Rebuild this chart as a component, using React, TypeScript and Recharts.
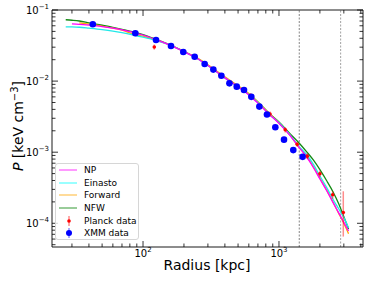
import React from 'react';
import { ComposedChart, Line, Scatter, XAxis, YAxis, ReferenceLine, ErrorBar, Legend } from 'recharts';

// ---- model curves (pressure in keV cm^-3 vs radius in kpc) ----
const radiusGrid = [27, 30, 34, 40, 50, 60, 70, 85, 100, 125, 150, 200, 250, 300, 400, 500, 600, 700, 850, 1000, 1200, 1400, 1600, 1800, 2000, 2250, 2500, 2750, 3000, 3250];
const npValues = [null, 0.0636, 0.0628, 0.0612, 0.0585, 0.0555, 0.0525, 0.0483, 0.0445, 0.0383, 0.0334, 0.0260, 0.0208, 0.0166, 0.0111, 0.0083, 0.0064, 0.0049, 0.0034, 0.00254, 0.00174, 0.00118, 0.00085, 0.00060, 0.00042, 0.000285, 0.000195, 0.000140, 0.000103, 0.000078];
const einastoValues = [0.058, 0.0578, 0.0572, 0.0555, 0.0530, 0.0505, 0.0480, 0.0445, 0.0415, 0.0372, 0.0333, 0.0260, 0.0208, 0.0166, 0.0111, 0.0083, 0.0065, 0.0050, 0.0034, 0.00260, 0.00176, 0.00121, 0.00092, 0.000665, 0.000463, 0.000315, 0.000216, 0.000160, 0.000120, 0.000086];
const forwardValues = [null, null, 0.066, 0.0635, 0.0595, 0.0555, 0.0520, 0.0458, 0.0428, 0.0377, 0.0333, 0.0262, 0.0212, 0.0170, 0.0115, 0.0086, 0.0067, 0.0051, 0.0035, 0.00258, 0.00175, 0.00118, 0.00087, 0.00061, 0.00043, 0.00029, 0.000198, 0.000138, 0.000100, 0.000071];
const nfwValues = [0.073, 0.0718, 0.0700, 0.0660, 0.0610, 0.0570, 0.0535, 0.0492, 0.0452, 0.0388, 0.0338, 0.0262, 0.0210, 0.0167, 0.0112, 0.0084, 0.0066, 0.0051, 0.0035, 0.00266, 0.00184, 0.00136, 0.00101, 0.000765, 0.000567, 0.000393, 0.000276, 0.000189, 0.000124, 0.000083];

// ---- data points ----
const xmmRadius = [42.7, 87.8, 124.6, 160.6, 197.8, 239.8, 284, 329, 377, 432, 489, 553, 626, 717, 816, 940, 1089, 1274, 1493];
const xmmPressure = [0.063, 0.047, 0.0379, 0.0312, 0.0257, 0.022, 0.0174, 0.0145, 0.0119, 0.0093, 0.00835, 0.0075, 0.0060, 0.00438, 0.00339, 0.00224, 0.0015, 0.00107, 0.00086];
const planckRadius = [121, 368, 620, 859, 1112, 1361, 1615, 2000, 2482, 2972];
const planckPressure = [0.0302, 0.0122, 0.00624, 0.00344, 0.00207, 0.00129, 0.00088, 0.000497, 0.000252, 0.000142];
const planckErrLow = [0.0025, 0.0009, 0.0005, 0.0003, 0.00017, 0.0001, 0.00008, 0.00005, 0.00003, 0.000077];
const planckErrHigh = [0.0025, 0.0009, 0.0005, 0.0003, 0.00017, 0.0001, 0.00008, 0.00005, 0.00003, 0.00014];

// ---- reference radii (dotted vertical lines) ----
const refRadii = [1410, 2840];
const refColors = ['#666666', '#aaaaaa'];

// ---- ticks ----
const xTicks = [30, 40, 50, 60, 70, 80, 90, 100, 200, 300, 400, 500, 600, 700, 800, 900, 1000, 2000, 3000, 4000];
const yTicks = [5e-5, 6e-5, 7e-5, 8e-5, 9e-5, 1e-4, 2e-4, 3e-4, 4e-4, 5e-4, 6e-4, 7e-4, 8e-4, 9e-4, 1e-3, 2e-3, 3e-3, 4e-3, 5e-3, 6e-3, 7e-3, 8e-3, 9e-3, 1e-2, 2e-2, 3e-2, 4e-2, 5e-2, 6e-2, 7e-2, 8e-2, 9e-2, 1e-1];
const xDomain = [21.4, 4150];
const yDomain = [4.64e-5, 0.1];

const legendItems = [
  { name: 'NP', color: 'rgba(255,0,255,0.5)', kind: 'line' },
  { name: 'Einasto', color: 'rgba(0,255,255,0.5)', kind: 'line' },
  { name: 'Forward', color: 'rgba(255,165,0,0.5)', kind: 'line' },
  { name: 'NFW', color: 'rgba(0,128,0,0.5)', kind: 'line' },
  { name: 'Planck data', color: '#ff0000', kind: 'planck' },
  { name: 'XMM data', color: '#0000ff', kind: 'xmm' },
];

const FONT = '"DejaVu Sans", sans-serif';

const curve = (vals: (number | null)[]) =>
  radiusGrid.map((r, i) => ({ r, p: vals[i] })).filter((d) => d.p != null);

const npData = curve(npValues);
const einastoData = curve(einastoValues);
const forwardData = curve(forwardValues);
const nfwData = curve(nfwValues);
const xmmData = xmmRadius.map((r, i) => ({ r, p: xmmPressure[i] }));
const planckData = planckRadius.map((r, i) => ({ r, p: planckPressure[i], err: [planckErrLow[i], planckErrHigh[i]] }));

const isMajor = (v: number) => Math.abs(Math.log10(v) - Math.round(Math.log10(v))) < 1e-6;
const expStr = (v: number) => {
  const e = Math.round(Math.log10(v));
  return e < 0 ? '\u2212' + Math.abs(e) : String(e);
};

const BottomTick = (props: any) => {
  const { x, y, payload } = props;
  const v = payload.value;
  const major = isMajor(v);
  return (
    <g>
      <line x1={x} x2={x} y1={y} y2={y - (major ? 6 : 3.5)} stroke="#000" strokeWidth={0.8} />
      {major && (
        <text x={x} y={y + 10} textAnchor="middle" fontFamily={FONT} fontSize={10} fill="#000">
          10<tspan dy={-5} fontSize={7}>{expStr(v)}</tspan>
        </text>
      )}
    </g>
  );
};
const TopTick = (props: any) => {
  const { x, y, payload } = props;
  const major = isMajor(payload.value);
  return <line x1={x} x2={x} y1={y} y2={y + (major ? 6 : 3.5)} stroke="#000" strokeWidth={0.8} />;
};
const LeftTick = (props: any) => {
  const { x, y, payload } = props;
  const v = payload.value;
  const major = isMajor(v);
  return (
    <g>
      <line x1={x} x2={x + (major ? 6 : 3.5)} y1={y} y2={y} stroke="#000" strokeWidth={0.8} />
      {major && (
        <text x={x - 3} y={y + 4} textAnchor="end" fontFamily={FONT} fontSize={10} fill="#000">
          10<tspan dy={-5} fontSize={7}>{expStr(v)}</tspan>
        </text>
      )}
    </g>
  );
};
const RightTick = (props: any) => {
  const { x, y, payload } = props;
  const major = isMajor(payload.value);
  return <line x1={x} x2={x - (major ? 6 : 3.5)} y1={y} y2={y} stroke="#000" strokeWidth={0.8} />;
};

const XTitle = () => (
  <text x={207} y={270} textAnchor="middle" fontFamily={FONT} fontSize={14} fill="#000">
    Radius [kpc]
  </text>
);
const YTitle = () => (
  <text x={23} y={126} transform="rotate(-90 23 126)" textAnchor="middle" fontFamily={FONT} fontSize={14} fill="#000">
    <tspan fontStyle="italic">P</tspan> [keV cm<tspan dy={-5} fontSize={10}>{'\u22123'}</tspan>
    <tspan dy={5}>]</tspan>
  </text>
);

const LegendBox = () => (
  <div
    style={{
      width: 84,
      height: 77,
      boxSizing: 'border-box',
      border: '1px solid #d6d6d6',
      borderRadius: 3,
      background: 'rgba(255,255,255,0.8)',
      paddingTop: 0,
      fontFamily: FONT,
      fontSize: 9,
      color: '#000',
    }}
  >
    {legendItems.map((it) => (
      <div key={it.name} style={{ display: 'flex', alignItems: 'center', height: 12.6 }}>
        <svg width={18} height={12} style={{ marginLeft: 3, marginRight: 7, flex: 'none' }}>
          {it.kind === 'line' && <line x1={0} x2={18} y1={6} y2={6} stroke={it.color} strokeWidth={1.6} />}
          {it.kind === 'planck' && (
            <g>
              <line x1={10} x2={10} y1={1} y2={11} stroke="rgba(255,0,0,0.45)" strokeWidth={1.5} />
              <circle cx={10} cy={6} r={1.8} fill="#ff0000" />
            </g>
          )}
          {it.kind === 'xmm' && (
            <g>
              <line x1={10} x2={10} y1={1} y2={11} stroke="rgba(0,0,255,0.45)" strokeWidth={1.5} />
              <circle cx={10} cy={6} r={3} fill="#0000ff" />
            </g>
          )}
        </svg>
        <span style={{ whiteSpace: 'nowrap', lineHeight: '12px' }}>{it.name}</span>
      </div>
    ))}
  </div>
);

const XmmDot = (props: any) => <circle cx={props.cx} cy={props.cy} r={3.3} fill="#0000ff" />;
const PlanckDot = (props: any) => <circle cx={props.cx} cy={props.cy} r={1.8} fill="#ff0000" />;

export default function App() {
  return (
    <div>
      <style>{'body{margin:0;}'}</style>
      <ComposedChart width={374} height={288} margin={{ top: 0, right: 0, bottom: 0, left: 0 }}>
        <XAxis
          xAxisId="b"
          dataKey="r"
          type="number"
          scale="log"
          domain={xDomain}
          allowDataOverflow
          ticks={xTicks}
          interval={0}
          height={41}
          tickSize={0}
          tickMargin={0}
          tick={<BottomTick />}
          axisLine={{ stroke: '#000', strokeWidth: 0.9 }}
          label={<XTitle />}
        />
        <XAxis
          xAxisId="t"
          orientation="top"
          dataKey="r"
          type="number"
          scale="log"
          domain={xDomain}
          allowDataOverflow
          ticks={xTicks}
          interval={0}
          height={10}
          tickSize={0}
          tickMargin={0}
          tick={<TopTick />}
          axisLine={{ stroke: '#000', strokeWidth: 0.9 }}
        />
        <YAxis
          yAxisId="l"
          dataKey="p"
          type="number"
          scale="log"
          domain={yDomain}
          allowDataOverflow
          ticks={yTicks}
          interval={0}
          width={52}
          tickSize={0}
          tickMargin={0}
          tick={<LeftTick />}
          axisLine={{ stroke: '#000', strokeWidth: 0.9 }}
          label={<YTitle />}
        />
        <YAxis
          yAxisId="r"
          orientation="right"
          dataKey="p"
          type="number"
          scale="log"
          domain={yDomain}
          allowDataOverflow
          ticks={yTicks}
          interval={0}
          width={11}
          tickSize={0}
          tickMargin={0}
          tick={<RightTick />}
          axisLine={{ stroke: '#000', strokeWidth: 0.9 }}
        />
        {refRadii.map((r, i) => (
          <ReferenceLine key={r} x={r} xAxisId="b" yAxisId="l" stroke={refColors[i]} strokeWidth={i === 0 ? 0.8 : 1.1} strokeDasharray="2 1.5" />
        ))}
        <Line data={nfwData} dataKey="p" xAxisId="b" yAxisId="l" type="monotone" stroke="#138a13" strokeWidth={1.3} dot={false} isAnimationActive={false} />
        <Line data={forwardData} dataKey="p" xAxisId="b" yAxisId="l" type="monotone" stroke="#ffa500" strokeWidth={1.3} dot={false} isAnimationActive={false} />
        <Line data={einastoData} dataKey="p" xAxisId="b" yAxisId="l" type="monotone" stroke="#22e8e8" strokeWidth={1.3} dot={false} isAnimationActive={false} />
        <Line data={npData} dataKey="p" xAxisId="b" yAxisId="l" type="monotone" stroke="#ff00ff" strokeWidth={1.3} dot={false} isAnimationActive={false} />
        <Scatter data={planckData} dataKey="p" xAxisId="b" yAxisId="l" shape={<PlanckDot />} isAnimationActive={false}>
          <ErrorBar dataKey="err" direction="y" width={0} stroke="rgba(255,0,0,0.45)" strokeWidth={1.5} isAnimationActive={false} />
        </Scatter>
        <Scatter data={xmmData} dataKey="p" xAxisId="b" yAxisId="l" shape={<XmmDot />} isAnimationActive={false} />
        <Legend
          layout="vertical"
          align="center"
          verticalAlign="middle"
          wrapperStyle={{ left: 55, top: 163, width: 84, height: 77 }}
          content={<LegendBox />}
        />
      </ComposedChart>
    </div>
  );
}
